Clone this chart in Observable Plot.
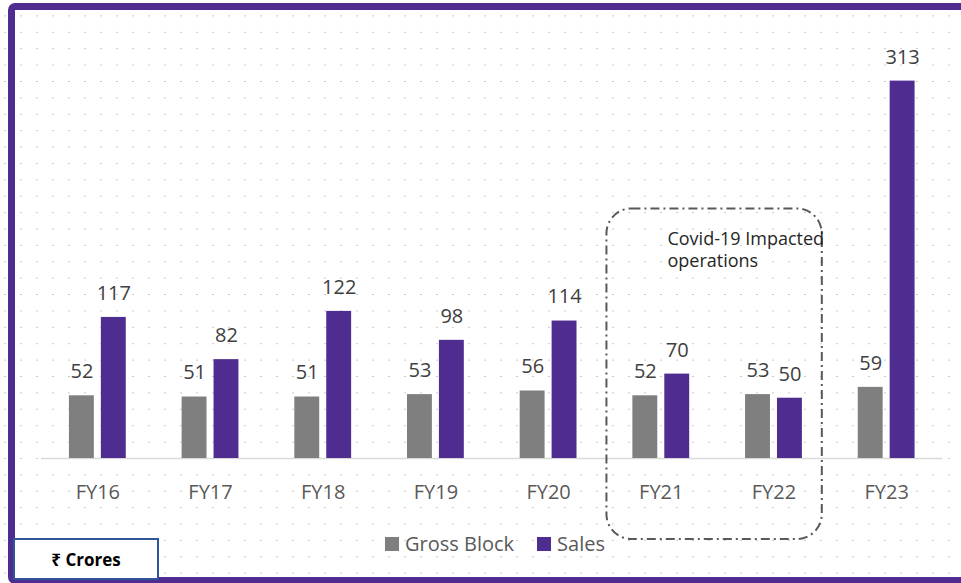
<!DOCTYPE html>
<html>
<head>
<meta charset="utf-8">
<script src="https://cdn.jsdelivr.net/npm/d3@7"></script>
<script src="https://cdn.jsdelivr.net/npm/@observablehq/plot@0.6"></script>
<style>
  html, body { margin: 0; padding: 0; width: 961px; height: 583px; overflow: hidden; background: #fff; }
  #page {
    position: relative; width: 961px; height: 583px; overflow: hidden;
    font-family: "Open Sans", "Noto Sans", sans-serif;
    background-image:
      radial-gradient(circle at 5px 16.7px, #c4c4c4 0.9px, transparent 1.4px),
      radial-gradient(circle at 13px 24.9px, #c4c4c4 0.9px, transparent 1.4px);
    background-size: 16px 16.4px;
    background-repeat: repeat;
  }
  #frame {
    position: absolute; left: 8px; top: 3px; width: 1000px; height: 581px;
    box-sizing: border-box; border: 7px solid #4F2C8F; border-radius: 7px;
  }
  #chart { position: absolute; left: 0; top: 0; }
  #note { position: absolute; font-size: 18px; line-height: 22px; color: #262626; white-space: nowrap; }
  #legend { position: absolute; left: 385px; top: 530px; font-size: 20px; color: #595959; display: flex; align-items: center; white-space: nowrap; }
  #legend .sw { width: 14px; height: 14px; display: inline-block; margin-right: 6px; }
  #legend .item { display: flex; align-items: center; margin-right: 23px; }
  #unit {
    position: absolute; left: 13px; top: 538px; width: 146px; height: 42px; box-sizing: border-box;
    border: 2px solid #2F5597; background: #fff; font-weight: bold; font-size: 17px; color: #000;
    display: flex; align-items: center; justify-content: center;
  }
</style>
</head>
<body>
<div id="page">
  <div id="frame"></div>
  <div id="chart"></div>
  <div id="note"></div>
  <div id="legend"></div>
  <div id="unit">₹ Crores</div>
</div>
<script>
const years = ["FY16", "FY17", "FY18", "FY19", "FY20", "FY21", "FY22", "FY23"];
const grossBlock = [52, 51, 51, 53, 56, 52, 53, 59];
const sales = [117, 82, 122, 98, 114, 70, 50, 313];
const seriesNames = ["Gross Block", "Sales"];
const seriesColors = ["#7F7F7F", "#4F2C8F"];
const unitLabel = "₹ Crores";
const noteLines = ["Covid-19 Impacted", "operations"];
const noteYears = ["FY21", "FY22"];

const data = years.flatMap((yr, i) => [
  {year: yr, series: seriesNames[0], value: grossBlock[i]},
  {year: yr, series: seriesNames[1], value: sales[i]}
]);

const W = 961, H = 583, ML = 41, MR = 18.5, MT = 36, MB = 125;

const chart = Plot.plot({
  width: W, height: H,
  marginLeft: ML, marginRight: MR, marginTop: MT, marginBottom: MB,
  style: {background: "transparent", fontFamily: "'Open Sans', 'Noto Sans', sans-serif", fontSize: "20px", color: "#595959"},
  facet: {data, x: "year"},
  fx: {domain: years, padding: 0, round: false, axis: "bottom", tickSize: 0, tickPadding: 26, label: null},
  x: {domain: seriesNames, paddingInner: 0.22, paddingOuter: 0.875, round: false, axis: null},
  y: {domain: [0, 350], axis: null},
  color: {domain: seriesNames, range: seriesColors},
  marks: [
    Plot.ruleY([0], {stroke: "#D9D9D9", strokeWidth: 1.5}),
    Plot.barY(data, {x: "series", y: "value", fill: "series"}),
    Plot.text(data, {x: "series", y: "value", text: d => String(d.value), dy: -24, fontSize: 20, fill: "#404040"})
  ]
});
document.getElementById("chart").appendChild(chart);

// Annotation box around the Covid-affected years, positioned with equivalent scales
const fxBand = d3.scaleBand(years, [ML, W - MR]).padding(0);
const yLin = d3.scaleLinear([0, 350], [H - MB, MT]);
const svg = d3.select(chart);
const bx0 = fxBand(noteYears[0]) + 2;
const bx1 = fxBand(noteYears[1]) + fxBand.bandwidth() - 8;
const by0 = yLin(207);
const by1 = yLin(0) + 81;
svg.append("rect")
  .attr("x", bx0).attr("y", by0).attr("width", bx1 - bx0).attr("height", by1 - by0)
  .attr("rx", 25).attr("ry", 25)
  .attr("fill", "none").attr("stroke", "#595959").attr("stroke-width", 2)
  .attr("stroke-dasharray", "9 4 2 4");

const note = document.getElementById("note");
note.style.left = (bx0 + 61) + "px";
note.style.top = (by0 + 19) + "px";
note.innerHTML = noteLines.join("<br>");

// Legend
const legend = document.getElementById("legend");
seriesNames.forEach((s, i) => {
  const it = document.createElement("span");
  it.className = "item";
  const sw = document.createElement("span");
  sw.className = "sw"; sw.style.background = seriesColors[i];
  it.appendChild(sw);
  it.appendChild(document.createTextNode(s));
  legend.appendChild(it);
});
document.getElementById("unit").textContent = unitLabel;
</script>
</body>
</html>
